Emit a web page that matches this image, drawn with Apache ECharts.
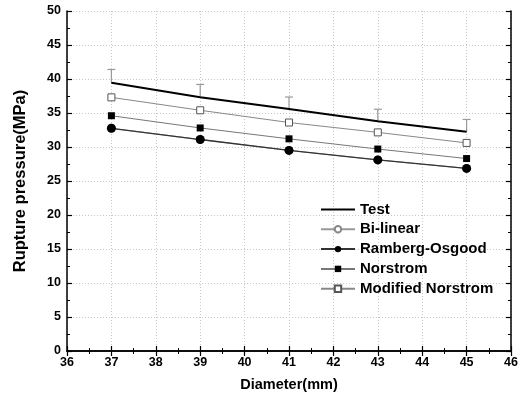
<!DOCTYPE html>
<html>
<head>
<meta charset="utf-8">
<script src="https://cdn.jsdelivr.net/npm/echarts@6/dist/echarts.min.js"></script>
<style>
  html, body { margin: 0; padding: 0; background: #fff; }
  #chart { width: 528px; height: 398px; }
</style>
</head>
<body>
<div id="chart"></div>
<script>
// 直径 (mm)
const diameters = [37, 39, 41, 43, 45]

// 爆破压力 (MPa)
const testValues = [39.45, 37.3, 35.6, 33.8, 32.25]
const testUpper = [41.4, 39.2, 37.35, 35.55, 34.05]
const biLinear = [32.75, 31.1, 29.5, 28.1, 26.85]
const rambergOsgood = [32.75, 31.1, 29.5, 28.1, 26.85]
const norstrom = [34.6, 32.8, 31.2, 29.7, 28.3]
const modifiedNorstrom = [37.3, 35.4, 33.6, 32.15, 30.6]

const seriesNames = ['Test', 'Bi-linear', 'Ramberg-Osgood', 'Norstrom', 'Modified Norstrom']

const pairs = vals => diameters.map((d, i) => [d, vals[i]])

const chart = echarts.init(document.getElementById('chart'), null, { renderer: 'canvas' })

const font = 'Liberation Sans, Arial, sans-serif'

const axisCommon = {
  axisLine: { show: true, lineStyle: { color: '#000', width: 1.5 } },
  axisTick: { show: true, inside: true, length: 5, lineStyle: { color: '#000', width: 1.2 } },
  minorTick: { show: true, splitNumber: 2, length: 3, lineStyle: { color: '#000', width: 1 } },
}

const option = {
  backgroundColor: '#fff',
  animation: false,
  grid: { left: 67, right: 17, top: 11, bottom: 47 },
  legend: {
    orient: 'vertical',
    left: 315,
    top: 197,
    itemWidth: 34,
    itemHeight: 8,
    itemGap: 4.8,
    // Test 图例只画线，不画点
    data: seriesNames.map(n => (n === 'Test' ? { name: n, itemStyle: { opacity: 0 } } : n)),
    textStyle: { fontFamily: font, fontWeight: 'bold', fontSize: 15, color: '#000' },
  },
  xAxis: [
    {
      type: 'value',
      min: 36,
      max: 46,
      interval: 1,
      name: 'Diameter(mm)',
      nameLocation: 'middle',
      nameGap: 26,
      nameTextStyle: { fontFamily: font, fontWeight: 'bold', fontSize: 14.5, color: '#000' },
      axisLabel: { fontFamily: font, fontWeight: 'bold', fontSize: 12.5, color: '#000', margin: 5 },
      splitLine: { show: true, lineStyle: { color: '#c8c8c8', type: [1, 2], width: 1 } },
      ...axisCommon,
    },
    {
      type: 'value',
      position: 'top',
      min: 36,
      max: 46,
      interval: 1,
      axisLabel: { show: false },
      splitLine: { show: false },
      ...axisCommon,
    },
  ],
  yAxis: [
    {
      type: 'value',
      min: 0,
      max: 50,
      interval: 5,
      name: 'Rupture pressure(MPa)',
      nameLocation: 'middle',
      nameGap: 38,
      nameTextStyle: { fontFamily: font, fontWeight: 'bold', fontSize: 16.5, color: '#000' },
      axisLabel: { fontFamily: font, fontWeight: 'bold', fontSize: 12.5, color: '#000', margin: 6 },
      splitLine: { show: true, lineStyle: { color: '#c8c8c8', type: [1, 2], width: 1 } },
      ...axisCommon,
    },
    {
      type: 'value',
      position: 'right',
      min: 0,
      max: 50,
      interval: 5,
      axisLabel: { show: false },
      splitLine: { show: false },
      ...axisCommon,
    },
  ],
  series: [
    {
      name: 'Test',
      type: 'line',
      data: pairs(testValues),
      symbol: 'none',
      z: 5,
      lineStyle: { color: '#000', width: 2 },
      itemStyle: { color: '#000' },
    },
    {
      name: 'Test error',
      type: 'custom',
      data: diameters.map((d, i) => [d, testValues[i], testUpper[i]]),
      z: 4,
      renderItem: (params, api) => {
        const lo = api.coord([api.value(0), api.value(1)])
        const hi = api.coord([api.value(0), api.value(2)])
        const half = 4
        return {
          type: 'group',
          children: [
            { type: 'line', shape: { x1: lo[0], y1: lo[1], x2: hi[0], y2: hi[1] }, style: { stroke: '#999', lineWidth: 1.2 } },
            { type: 'line', shape: { x1: hi[0] - half, y1: hi[1], x2: hi[0] + half, y2: hi[1] }, style: { stroke: '#999', lineWidth: 1.2 } },
          ],
        }
      },
    },
    {
      name: 'Bi-linear',
      type: 'line',
      data: pairs(biLinear),
      symbol: 'circle',
      symbolSize: 8,
      z: 2,
      lineStyle: { color: '#999', width: 1 },
      itemStyle: { color: '#fff', borderColor: '#888', borderWidth: 1 },
    },
    {
      name: 'Ramberg-Osgood',
      type: 'line',
      data: pairs(rambergOsgood),
      symbol: 'circle',
      symbolSize: 9,
      z: 3,
      lineStyle: { color: '#333', width: 1.3 },
      itemStyle: { color: '#000' },
    },
    {
      name: 'Norstrom',
      type: 'line',
      data: pairs(norstrom),
      symbol: 'rect',
      symbolSize: 7,
      z: 3,
      lineStyle: { color: '#777', width: 1 },
      itemStyle: { color: '#000' },
    },
    {
      name: 'Modified Norstrom',
      type: 'line',
      data: pairs(modifiedNorstrom),
      symbol: 'rect',
      symbolSize: 7,
      z: 3,
      lineStyle: { color: '#888', width: 1 },
      itemStyle: { color: '#fff', borderColor: '#555', borderWidth: 1 },
    },
  ],
}

chart.setOption(option)
</script>
</body>
</html>
